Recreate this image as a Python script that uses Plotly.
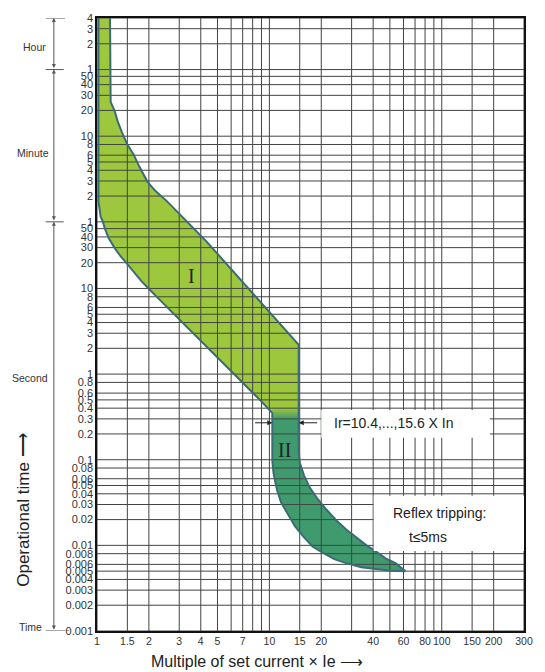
import numpy as np
import plotly.graph_objects as go

# ---------------- axis ticks / grid ----------------
x_grid = [1, 1.5, 2, 3, 4, 5, 6, 7, 8, 9, 10, 15, 20, 30, 40, 50, 60, 70, 80, 90, 100, 150, 200, 300]
x_labels = [1, 1.5, 2, 3, 4, 5, 7, 10, 15, 20, 40, 60, 80, 100, 150, 200, 300]
sec_ticks = [0.001, 0.002, 0.003, 0.004, 0.005, 0.006, 0.008, 0.01, 0.02, 0.03, 0.04, 0.05,
             0.06, 0.08, 0.1, 0.2, 0.3, 0.4, 0.5, 0.6, 0.8, 1, 2, 3, 4, 5, 6, 8, 10, 20, 30, 40, 50]
min_ticks = [1, 2, 3, 4, 5, 6, 8, 10, 20, 30, 40, 50]
hour_ticks = [1, 2, 3, 4]

# ---------------- zone I (overload, light green) ----------------
zone1_upper_I = [1.19, 1.19, 1.20, 1.27, 1.32, 1.39, 1.50, 1.63, 1.76, 1.96, 2.17, 2.55, 3.31, 4.31, 14.8]
zone1_upper_t = [14400, 1830, 1510, 1160, 886, 678, 478, 366, 265, 177, 139, 104, 60.7, 35.5, 2.2]
zone1_lower_I = [1.02, 1.02, 1.05, 1.08, 1.11, 1.17, 1.27, 1.37, 1.50, 1.65, 1.81, 2.01, 2.29, 8.9, 10.4]
zone1_lower_t = [14400, 104, 69, 60.7, 50.3, 38.5, 29.4, 23.8, 19.2, 15.1, 12.2, 9.8, 7.5, 0.49, 0.35]

# ---------------- zone II (short-circuit, dark green) ----------------
zone2_left_I = [10.4, 10.4, 10.56, 10.83, 11.1, 11.7, 12.7, 14.1, 15.9, 17.8, 20.6, 23.8, 27.9, 34.1, 41.4, 50.5, 61.5]
zone2_left_t = [0.35, 0.0975, 0.0708, 0.0541, 0.0437, 0.0316, 0.0236, 0.0166, 0.0124, 0.0097, 0.0081,
                0.0069, 0.0062, 0.00555, 0.0053, 0.00505, 0.0050]
zone2_right_I = [14.8, 14.8, 15.0, 15.9, 17.15, 18.8, 21.4, 24.5, 27.9, 31.8, 36.6, 41.4, 47.2, 53.9, 61.5]
zone2_right_t = [0.35, 0.128, 0.0925, 0.0653, 0.0473, 0.0362, 0.0262, 0.0195, 0.01535, 0.0124, 0.0100,
                 0.0085, 0.00705, 0.0062, 0.0050]

# transition band between zones
trans_I = [10.4, 14.8]
trans_t = [0.30, 0.40]

LIGHT = "#9dc73d"
DARK = "#3f9a6e"
OUTLINE = "#3b6c76"
GRID = "#444444"

T_MIN, T_MAX = 0.001, 4 * 3600
I_MIN, I_MAX = 1, 300

fig = go.Figure()

# zone I fill
fig.add_trace(go.Scatter(
    x=zone1_lower_I + zone2_right_I[:1] + zone1_upper_I[::-1],
    y=zone1_lower_t + zone2_right_t[:1] + zone1_upper_t[::-1],
    fill="toself", fillcolor=LIGHT, line=dict(width=0), mode="lines",
    hoverinfo="skip", showlegend=False))

# zone II fill
fig.add_trace(go.Scatter(
    x=zone2_left_I + zone2_right_I[::-1],
    y=zone2_left_t + zone2_right_t[::-1],
    fill="toself", fillcolor=DARK, line=dict(width=0), mode="lines",
    hoverinfo="skip", showlegend=False))

# gradient transition
fig.add_trace(go.Scatter(
    x=[trans_I[0], trans_I[1], trans_I[1], trans_I[0], trans_I[0]],
    y=[trans_t[0], trans_t[0], trans_t[1], trans_t[1], trans_t[0]],
    fill="toself", line=dict(width=0), mode="lines",
    fillgradient=dict(type="vertical", colorscale=[[0, DARK], [1, LIGHT]]),
    hoverinfo="skip", showlegend=False))

# grid lines (drawn above fills)
y_all = sec_ticks + [m * 60 for m in min_ticks] + [h * 3600 for h in hour_ticks]
gx, gy = [], []
for v in x_grid:
    gx += [v, v, None]
    gy += [T_MIN, T_MAX, None]
for v in y_all:
    gx += [I_MIN, I_MAX, None]
    gy += [v, v, None]
fig.add_trace(go.Scatter(x=gx, y=gy, mode="lines", line=dict(color=GRID, width=1),
                         hoverinfo="skip", showlegend=False))

# outlines
fig.add_trace(go.Scatter(x=zone1_lower_I + zone2_left_I[1:], y=zone1_lower_t + zone2_left_t[1:],
                         mode="lines", line=dict(color=OUTLINE, width=2),
                         hoverinfo="skip", showlegend=False))
fig.add_trace(go.Scatter(x=zone1_upper_I + zone2_right_I, y=zone1_upper_t + zone2_right_t,
                         mode="lines", line=dict(color=OUTLINE, width=2),
                         hoverinfo="skip", showlegend=False))

L = np.log10
shapes = []
# white text boxes (shapes take data values on log axes)
shapes.append(dict(type="rect", xref="x", yref="y", x0=20, x1=190, y0=0.18, y1=0.38,
                   fillcolor="white", line=dict(width=0), layer="above"))
shapes.append(dict(type="rect", xref="x", yref="y", x0=40.3, x1=300, y0=0.0086, y1=0.038,
                   fillcolor="white", line=dict(width=0), layer="above"))
# dimension ticks at left
for v, x1 in [(T_MAX, -0.075), (3600, -0.078), (60, -0.078), (T_MIN, -0.065)]:
    shapes.append(dict(type="line", xref="paper", yref="y", x0=-0.12, x1=x1, y0=v, y1=v,
                       line=dict(color="#555555", width=1)))

annotations = []
# dimension arrows
for lo, hi in [(3600, T_MAX), (60, 3600), (T_MIN, 60)]:
    annotations.append(dict(xref="paper", yref="y", x=-0.101, y=L(hi), ax=0, ay=L(lo),
                            axref="pixel", ayref="y", text="", showarrow=True,
                            arrowhead=2, startarrowhead=2, arrowside="end+start",
                            arrowsize=0.8, startarrowsize=0.8, arrowwidth=1, arrowcolor="#555555"))
side_font = dict(family="Liberation Sans, Arial", size=10.5, color="#333333")
C = dict(xanchor="center", yanchor="middle", showarrow=False)
annotations += [
    dict(xref="paper", yref="paper", x=-0.147, y=0.953, text="Hour", font=side_font, **C),
    dict(xref="paper", yref="paper", x=-0.149, y=0.779, text="Minute", font=side_font, **C),
    dict(xref="paper", yref="paper", x=-0.156, y=0.413, text="Second", font=side_font, **C),
    dict(xref="paper", yref="paper", x=-0.156, y=0.0065, text="Time", font=side_font, **C),
    dict(xref="paper", yref="paper", x=-0.172, y=0.197, text="Operational time ⟶", textangle=-90,
         font=dict(family="Liberation Sans, Arial", size=17, color="#222222"), **C),
    dict(xref="paper", yref="paper", x=0.375, y=-0.050, text="Multiple of set current × Ie ⟶",
         font=dict(family="Liberation Sans, Arial", size=16, color="#222222"), **C),
    dict(xref="x", yref="y", x=L(3.54), y=L(13.9), text="I",
         font=dict(family="Liberation Serif, Times New Roman", size=20, color="#222222"), **C),
    dict(xref="x", yref="y", x=L(12.2), y=L(0.131), text="II",
         font=dict(family="Liberation Serif, Times New Roman", size=20, color="#222222"), **C),
    dict(xref="x", yref="y", x=L(52.6), y=L(0.27), text="Ir=10.4,...,15.6 X In",
         font=dict(family="Liberation Sans, Arial", size=14, color="#222222"), **C),
    dict(xref="x", yref="y", x=L(97.4), y=L(0.0236), text="Reflex tripping:",
         font=dict(family="Liberation Sans, Arial", size=14, color="#222222"), **C),
    dict(xref="x", yref="y", x=L(83.2), y=L(0.0124), text="t≤5ms",
         font=dict(family="Liberation Sans, Arial", size=14, color="#222222"), **C),
]
# Ir arrows
for head, tail in [(10.4, 8.1), (14.8, 19.3)]:
    annotations.append(dict(xref="x", yref="y", x=L(head), y=L(0.27), ax=L(tail), ay=L(0.27),
                            axref="x", ayref="y", text="", showarrow=True, arrowhead=2,
                            arrowsize=1, arrowwidth=1, arrowcolor="#222222"))

y_text = [f"{v:g}" for v in sec_ticks] + [f"{v:g}" for v in min_ticks] + [f"{v:g}" for v in hour_ticks]

fig.update_layout(
    width=545, height=672, autosize=False,
    margin=dict(l=97, r=13, t=16, b=41),
    paper_bgcolor="white", plot_bgcolor="white",
    shapes=shapes, annotations=annotations,
    xaxis=dict(type="log", range=[L(I_MIN), L(I_MAX)], tickvals=x_labels,
               ticktext=[f"{v:g}" for v in x_labels], showgrid=False, zeroline=False,
               showline=True, mirror=True, linecolor="#111111", linewidth=1.5, ticks="",
               tickangle=0,
               tickfont=dict(family="Liberation Sans Narrow, Liberation Sans, Arial", size=10.5, color="#333333")),
    yaxis=dict(type="log", range=[L(T_MIN), L(T_MAX)], tickvals=y_all, ticktext=y_text,
               showgrid=False, zeroline=False, showline=True, mirror=True, linecolor="#111111",
               linewidth=1.5, ticks="",
               tickfont=dict(family="Liberation Sans Narrow, Liberation Sans, Arial", size=11, color="#333333")),
)

fig.write_html("out.html")
